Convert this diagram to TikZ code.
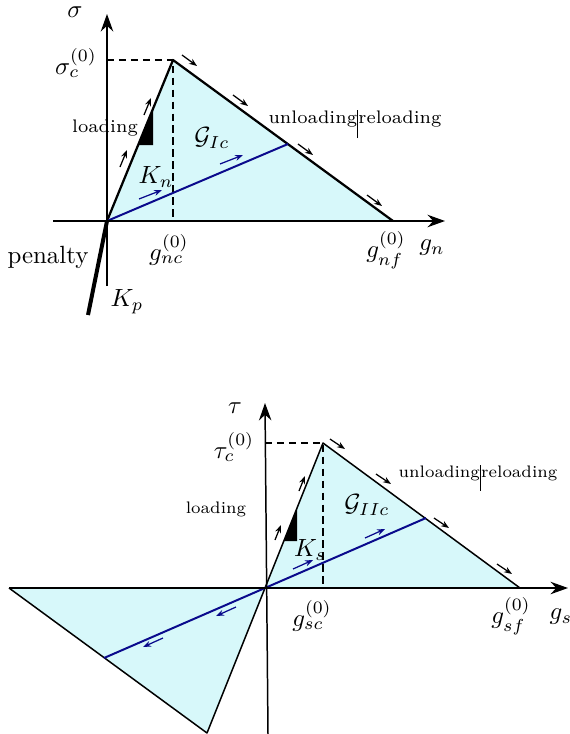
\documentclass[tikz,border=0pt]{standalone}
\usepackage{fontspec}
\usepackage{amsmath}
\usepackage{amssymb}
\usepackage{tikz}
\usetikzlibrary{arrows,arrows.meta,calc}
\definecolor{fillcyan}{RGB}{215,248,250}
\definecolor{unloadblue}{RGB}{10,10,140}
\newcommand{\splitbar}{\rule[-0.8em]{0.5pt}{1.55em}}
\tikzset{axis/.style={-{Stealth[length=7pt,width=5pt]}}}
\tikzset{flow/.style={-{Stealth[length=3.2pt,width=2.4pt]},line width=0.5pt}}
\tikzset{backflow/.style={flow,unloadblue}}
\tikzset{limit/.style={line width=0.9pt,dash pattern=on 3pt off 1.8pt}}
\tikzset{stiff/.style={fill=black}}
\tikzset{tag/.style={font=\fontsize{7.3}{9}\selectfont}}
\tikzset{smalltag/.style={font=\fontsize{6.7}{8}\selectfont}}

\begin{document}
\begin{tikzpicture}[x=0.4016pt,y=-0.4016pt,line join=round]
        \useasboundingbox (0,0) rectangle (570,734);
        \coordinate (o1) at (107,221);
        \coordinate (p1) at (173,60);
        \coordinate (f1) at (393,221);
        \coordinate (b1) at (288,144);
        \fill [fillcyan] (o1) -- (p1) -- (f1) -- cycle;
        \draw [limit] (107,60) -- (p1) -- (173,221);
        \draw [line width=0.9pt] (o1) -- (p1) -- (f1);
        \draw [unloadblue,line width=0.8pt] (o1) -- (b1);
        \draw [line width=1.6pt] (88,315) -- (o1);
        \fill [stiff] (153,110) -- (153,145) -- (138,145) -- cycle;
        \draw [axis,line width=0.7pt] (53,221) -- (445,221);
        \draw [axis,line width=0.7pt] (107,286) -- (107,14);
        \draw [flow] (120,167) -- ++(7,-17);
        \draw [flow] (144,115) -- ++(7,-17);
        \draw [flow] (182,55) -- ++(15,11);
        \draw [flow] (233,95) -- ++(15,11);
        \draw [flow] (298,144) -- ++(15,11);
        \draw [flow] (367,195) -- ++(15,11);
        \draw [backflow] (139,199) -- ++(23,-9);
        \draw [backflow] (220,164) -- ++(23,-9);
        \node (sig) at (75,12) {$\sigma$};
        \node (sigc) at (76,63) {$\sigma_c^{(0)}$};
        \node [tag] (load1) at (105,128) {loading};
        \node (gic) at (212,138) {$\mathcal{G}_{Ic}$};
        \node (kn) at (156,177) {$K_n$};
        \node [tag] (unl1) at (355,124) {unloading\splitbar reloading};
        \node (gnc) at (169,250) {$g_{nc}^{(0)}$};
        \node (gnf) at (386,250) {$g_{nf}^{(0)}$};
        \node (gn) at (432,248) {$g_n$};
        \node (pen) at (48,257) {penalty};
        \node (kp) at (127,302) {$K_p$};
        \coordinate (o2) at (265,588);
        \coordinate (p2) at (323,443);
        \coordinate (f2) at (520,588);
        \coordinate (b2) at (426,518);
        \coordinate (q2) at (207,733);
        \coordinate (e2) at (9,588);
        \coordinate (c2) at (104,658);
        \fill [fillcyan] (o2) -- (p2) -- (f2) -- cycle;
        \fill [fillcyan] (o2) -- (q2) -- (e2) -- cycle;
        \draw [limit] (265,443) -- (p2) -- (323,588);
        \draw [line width=0.6pt] (e2) -- (q2) -- (p2) -- (f2);
        \draw [unloadblue,line width=0.8pt] (c2) -- (b2);
        \fill [stiff] (297,508) -- (297,541) -- (284,541) -- cycle;
        \draw [axis,line width=0.6pt] (e2) -- (568,588);
        \draw [axis,line width=0.6pt] (268,734) -- (265,403);
        \draw [flow] (275,540) -- ++(6,-15);
        \draw [flow] (299,491) -- ++(6,-15);
        \draw [flow] (330,439) -- ++(15,10);
        \draw [flow] (376,474) -- ++(15,10);
        \draw [flow] (434,518) -- ++(15,10);
        \draw [flow] (497,564) -- ++(15,10);
        \draw [backflow] (293,569) -- ++(20,-9);
        \draw [backflow] (365,538) -- ++(20,-9);
        \draw [backflow] (236,607) -- ++(-20,9);
        \draw [backflow] (163,638) -- ++(-20,9);
        \node (tau) at (235,408) {$\tau$};
        \node (tauc) at (234,447) {$\tau_c^{(0)}$};
        \node [smalltag] (load2) at (216,509) {loading};
        \node (giic) at (367,505) {$\mathcal{G}_{IIc}$};
        \node (ks) at (310,550) {$K_s$};
        \node [smalltag] (unl2) at (478,478) {unloading\splitbar reloading};
        \node (gsc) at (312,616) {$g_{sc}^{(0)}$};
        \node (gsf) at (511,616) {$g_{sf}^{(0)}$};
        \node (gs) at (561,617) {$g_s$};
\end{tikzpicture}
\end{document}
